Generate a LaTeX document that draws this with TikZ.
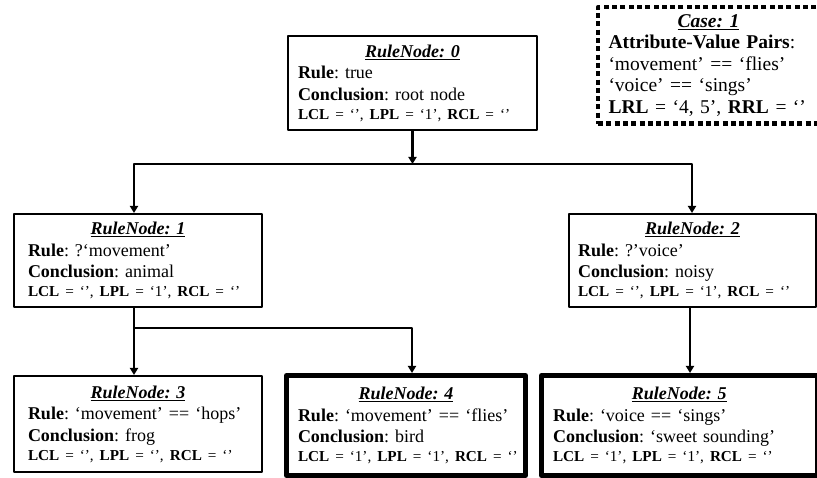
\documentclass[tikz,border=0pt]{standalone}
\usepackage{fontspec}
\setmainfont{Liberation Serif}
\usetikzlibrary{arrows.meta}
\frenchspacing

\newcommand{\rtitle}[1]{\makebox[\hsize]{\bfseries\itshape\underline{#1}}}
\newcommand{\rlinks}[3]{\mbox{\fontsize{15.2}{18}\selectfont\textbf{LCL} = ‘#1’, \textbf{LPL} = ‘#2’, \textbf{RCL} = ‘#3’}}

\begin{document}
\begin{tikzpicture}[x=1pt,y=-1pt,line join=round,>={Triangle[width=8pt,length=7pt]},
  rulebox/.style={draw,line width=2pt,align=left,font=\frenchspacing\fontsize{18}{21.5}\selectfont},
  leafbox/.style={rulebox,line width=5pt},
  casebox/.style={draw,line width=4.5pt,dash pattern=on 5pt off 3.3pt,align=left,
    font=\frenchspacing\fontsize{19.5}{21.5}\selectfont},
  link/.style={line width=2.5pt}]
\useasboundingbox (0,0) rectangle (817,478);

% rule nodes
\node[rulebox,text width=229pt,inner xsep=10pt,minimum height=94pt] (rn0) at (412.5,83) {\rtitle{RuleNode: 0}\\
\textbf{Rule}: true\\
\textbf{Conclusion}: root node\\[-2.5pt]
\rlinks{}{1}{}};
\node[rulebox,text width=220pt,inner xsep=14pt,minimum height=93pt] (rn1) at (138,260.5) {\rtitle{RuleNode: 1}\\
\textbf{Rule}: ?‘movement’\\
\textbf{Conclusion}: animal\\[-2.5pt]
\rlinks{}{1}{}};
\node[rulebox,text width=229pt,inner xsep=9pt,minimum height=93pt] (rn2) at (692.5,260.5) {\rtitle{RuleNode: 2}\\
\textbf{Rule}: ?’voice’\\
\textbf{Conclusion}: noisy\\[-2.5pt]
\rlinks{}{1}{}};
\node[rulebox,text width=220pt,inner xsep=14pt,minimum height=96pt] (rn3) at (138,424) {\rtitle{RuleNode: 3}\\
\textbf{Rule}: ‘movement’ == ‘hops’\\
\textbf{Conclusion}: frog\\[-2.5pt]
\rlinks{}{}{}};
\node[leafbox,text width=216pt,inner xsep=11.5pt,minimum height=100pt] (rn4) at (406,425.5) {\rtitle{RuleNode: 4}\\
\textbf{Rule}: ‘movement’ == ‘flies’\\
\textbf{Conclusion}: bird\\[-2.5pt]
\rlinks{1}{1}{}};
\node[leafbox,text width=252.5pt,inner xsep=11.5pt,minimum height=100pt] (rn5) at (679.25,425.5) {\rtitle{RuleNode: 5}\\
\textbf{Rule}: ‘voice == ‘sings’\\
\textbf{Conclusion}: ‘sweet sounding’\\[-2.5pt]
\rlinks{1}{1}{}};

% case
\node[casebox,text width=200pt,inner xsep=10.5pt,minimum height=116.5pt] (case) at (708.5,65.5) {\rtitle{Case: 1}\\
\textbf{Attribute-Value Pairs}:\\
‘movement’ == ‘flies’\\
‘voice’ == ‘sings’\\
\textbf{LRL} = ‘4, 5’, \textbf{RRL} = ‘’};

% connectors
\coordinate (s0l) at (134,164);
\coordinate (s0r) at (692,164);
\coordinate (s1l) at (134,328);
\coordinate (s1r) at (412,328);
\coordinate (s2) at (690,320);
\draw[link,->] (rn0.south) -- (rn0.south |- s0l);
\draw[link,<->] (s0l |- rn1.north) -- (s0l) -- (s0r) -- (s0r |- rn2.north);
\draw[link,->] (s1l |- rn1.south) -- (s1l |- rn3.north);
\draw[link,->] (s1l) -- (s1r) -- (s1r |- rn4.north);
\draw[link,->] (s2 |- rn2.south) -- (s2 |- rn5.north);
\end{tikzpicture}
\end{document}
